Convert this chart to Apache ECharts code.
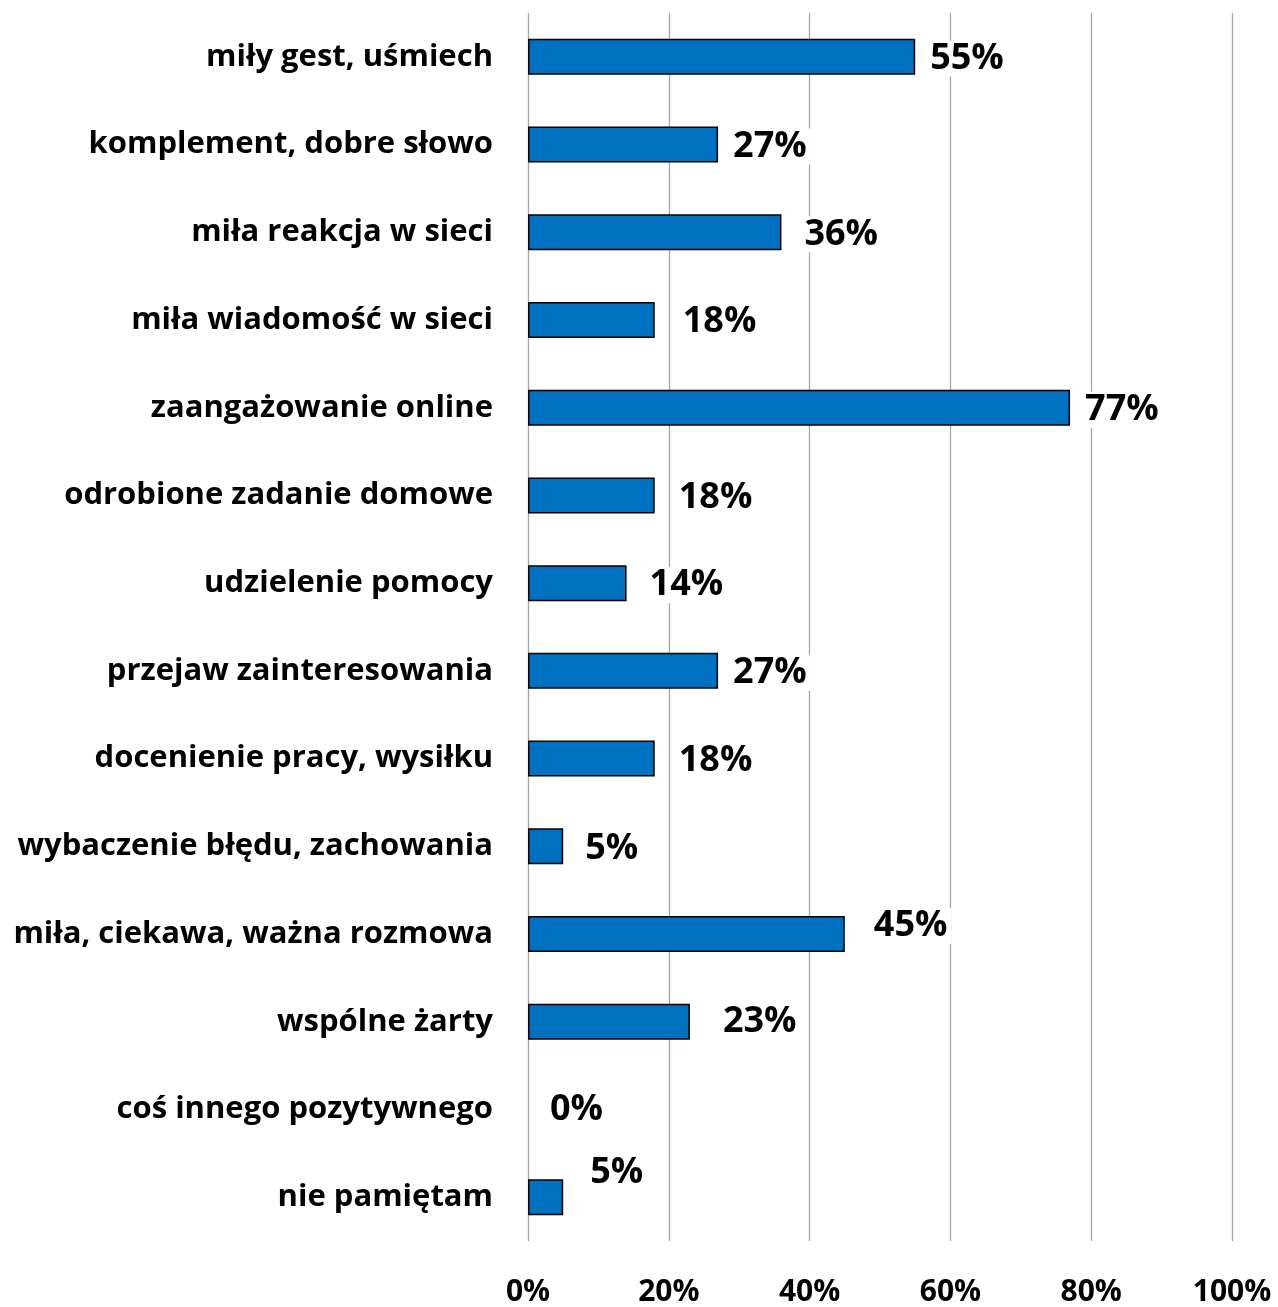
<!DOCTYPE html>
<html><head><meta charset="utf-8">
<script src="https://cdn.jsdelivr.net/npm/echarts@6/dist/echarts.min.js"></script>
<style>html,body{margin:0;padding:0;background:#fff}#c{width:1278px;height:1307px}</style>
</head><body><div id="c"></div>
<script>
const categories = [
  'miły gest, uśmiech',
  'komplement, dobre słowo',
  'miła reakcja w sieci',
  'miła wiadomość w sieci',
  'zaangażowanie online',
  'odrobione zadanie domowe',
  'udzielenie pomocy',
  'przejaw zainteresowania',
  'docenienie pracy, wysiłku',
  'wybaczenie błędu, zachowania',
  'miła, ciekawa, ważna rozmowa',
  'wspólne żarty',
  'coś innego pozytywnego',
  'nie pamiętam'
];
const values = [55, 27, 36, 18, 77, 18, 14, 27, 18, 5, 45, 23, 0, 5];
const xTicks = [0, 20, 40, 60, 80, 100];

// label nudges (style only)
const labelNudge = [[0,2],[0,2],[8,2],[13,2],[0,2],[9,2],[8,2],[0,2],[9,2],[7,2],[14,-8],[18,0],[7,0],[12,-24]];

const chart = echarts.init(document.getElementById('c'));
chart.setOption({
  backgroundColor: '#fff',
  animation: false,
  grid: { left: 528, right: 46, top: 13, bottom: 62, containLabel: false },
  xAxis: {
    type: 'value', min: xTicks[0], max: xTicks[xTicks.length-1], interval: 20,
    axisLine: { show: false }, axisTick: { show: false },
    splitLine: { show: true, lineStyle: { color: '#a6a6a6', width: 1.3 } },
    axisLabel: {
      formatter: v => v + '%', margin: 36,
      fontFamily: '"Liberation Sans Narrow", "Open Sans", sans-serif', fontWeight: 'bold', fontSize: 30, color: '#000'
    }
  },
  yAxis: {
    type: 'category', data: categories, inverse: true,
    axisLine: { show: false }, axisTick: { show: false },
    axisLabel: { margin: 35, fontFamily: '"Open Sans", sans-serif', fontWeight: 'bold', fontSize: 31, color: '#000' }
  },
  series: [{
    type: 'bar', barWidth: 36,
    data: values.map((v, i) => ({
      value: v,
      label: { offset: labelNudge[i] },
      itemStyle: v === 0 ? { borderWidth: 0 } : undefined
    })),
    itemStyle: { color: '#0070c0', borderColor: '#000', borderWidth: 1.5 },
    label: {
      show: true, position: 'right', distance: 11,
      formatter: p => p.value + '%',
      fontFamily: '"Open Sans", sans-serif', fontWeight: 'bold', fontSize: 36, color: '#000',
      backgroundColor: '#fff', padding: [0, 4]
    }
  }]
});
</script></body></html>
